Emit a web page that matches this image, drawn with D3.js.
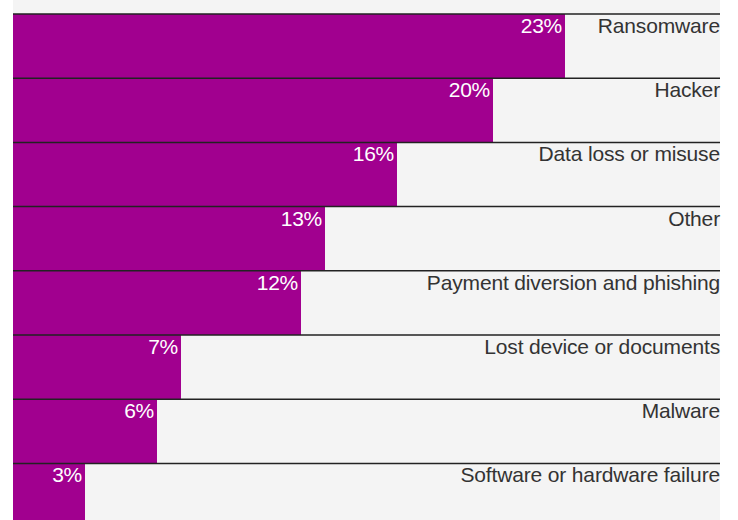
<!DOCTYPE html>
<html><head><meta charset="utf-8">
<script src="https://cdn.jsdelivr.net/npm/d3@7"></script>
<style>html,body{margin:0;padding:0;background:#fff;overflow:hidden}</style>
</head><body>
<svg id="c" width="738" height="520"></svg>
<script>
const categories = ["Ransomware","Hacker","Data loss or misuse","Other","Payment diversion and phishing","Lost device or documents","Malware","Software or hardware failure"];
const values = [23,20,16,13,12,7,6,3];

(function(){
const svg = d3.select("#c");
const mLeft = 13, mRight = 720, mTop = 14, rowH = 64.2;
const x = d3.scaleLinear().domain([0, 707/24]).range([mLeft, mRight]);
const y = d3.scaleBand().domain(categories).range([mTop, mTop + rowH*categories.length]).padding(0);
const font = "'Liberation Sans', Arial, sans-serif";

svg.append("rect").attr("x", mLeft).attr("y", 0).attr("width", mRight-mLeft).attr("height", 520).attr("fill", "#f4f4f4");

const g = svg.selectAll("g.row").data(categories.map((c,i)=>({c, v: values[i]}))).join("g").attr("class","row");
g.append("rect").attr("x", x(0)).attr("y", d=>y(d.c)).attr("width", d=>x(d.v)-x(0)).attr("height", y.bandwidth()).attr("fill", "#a1008f");
g.append("line").attr("x1", mLeft).attr("x2", mRight).attr("y1", d=>y(d.c)).attr("y2", d=>y(d.c)).attr("stroke", "#222").attr("stroke-width", 1.5);
g.append("text").attr("x", d=>x(d.v)-3).attr("y", d=>y(d.c)+19).attr("text-anchor","end")
  .attr("fill","#fff").style("font-family",font).style("font-size","21px").style("letter-spacing","-0.3px").text(d=>d.v+"%");
g.append("text").attr("x", mRight).attr("y", d=>y(d.c)+19).attr("text-anchor","end")
  .attr("fill","#333").style("font-family",font).style("font-size","21px").style("letter-spacing","-0.15px").text(d=>d.c);
})();
</script>
</body></html>
